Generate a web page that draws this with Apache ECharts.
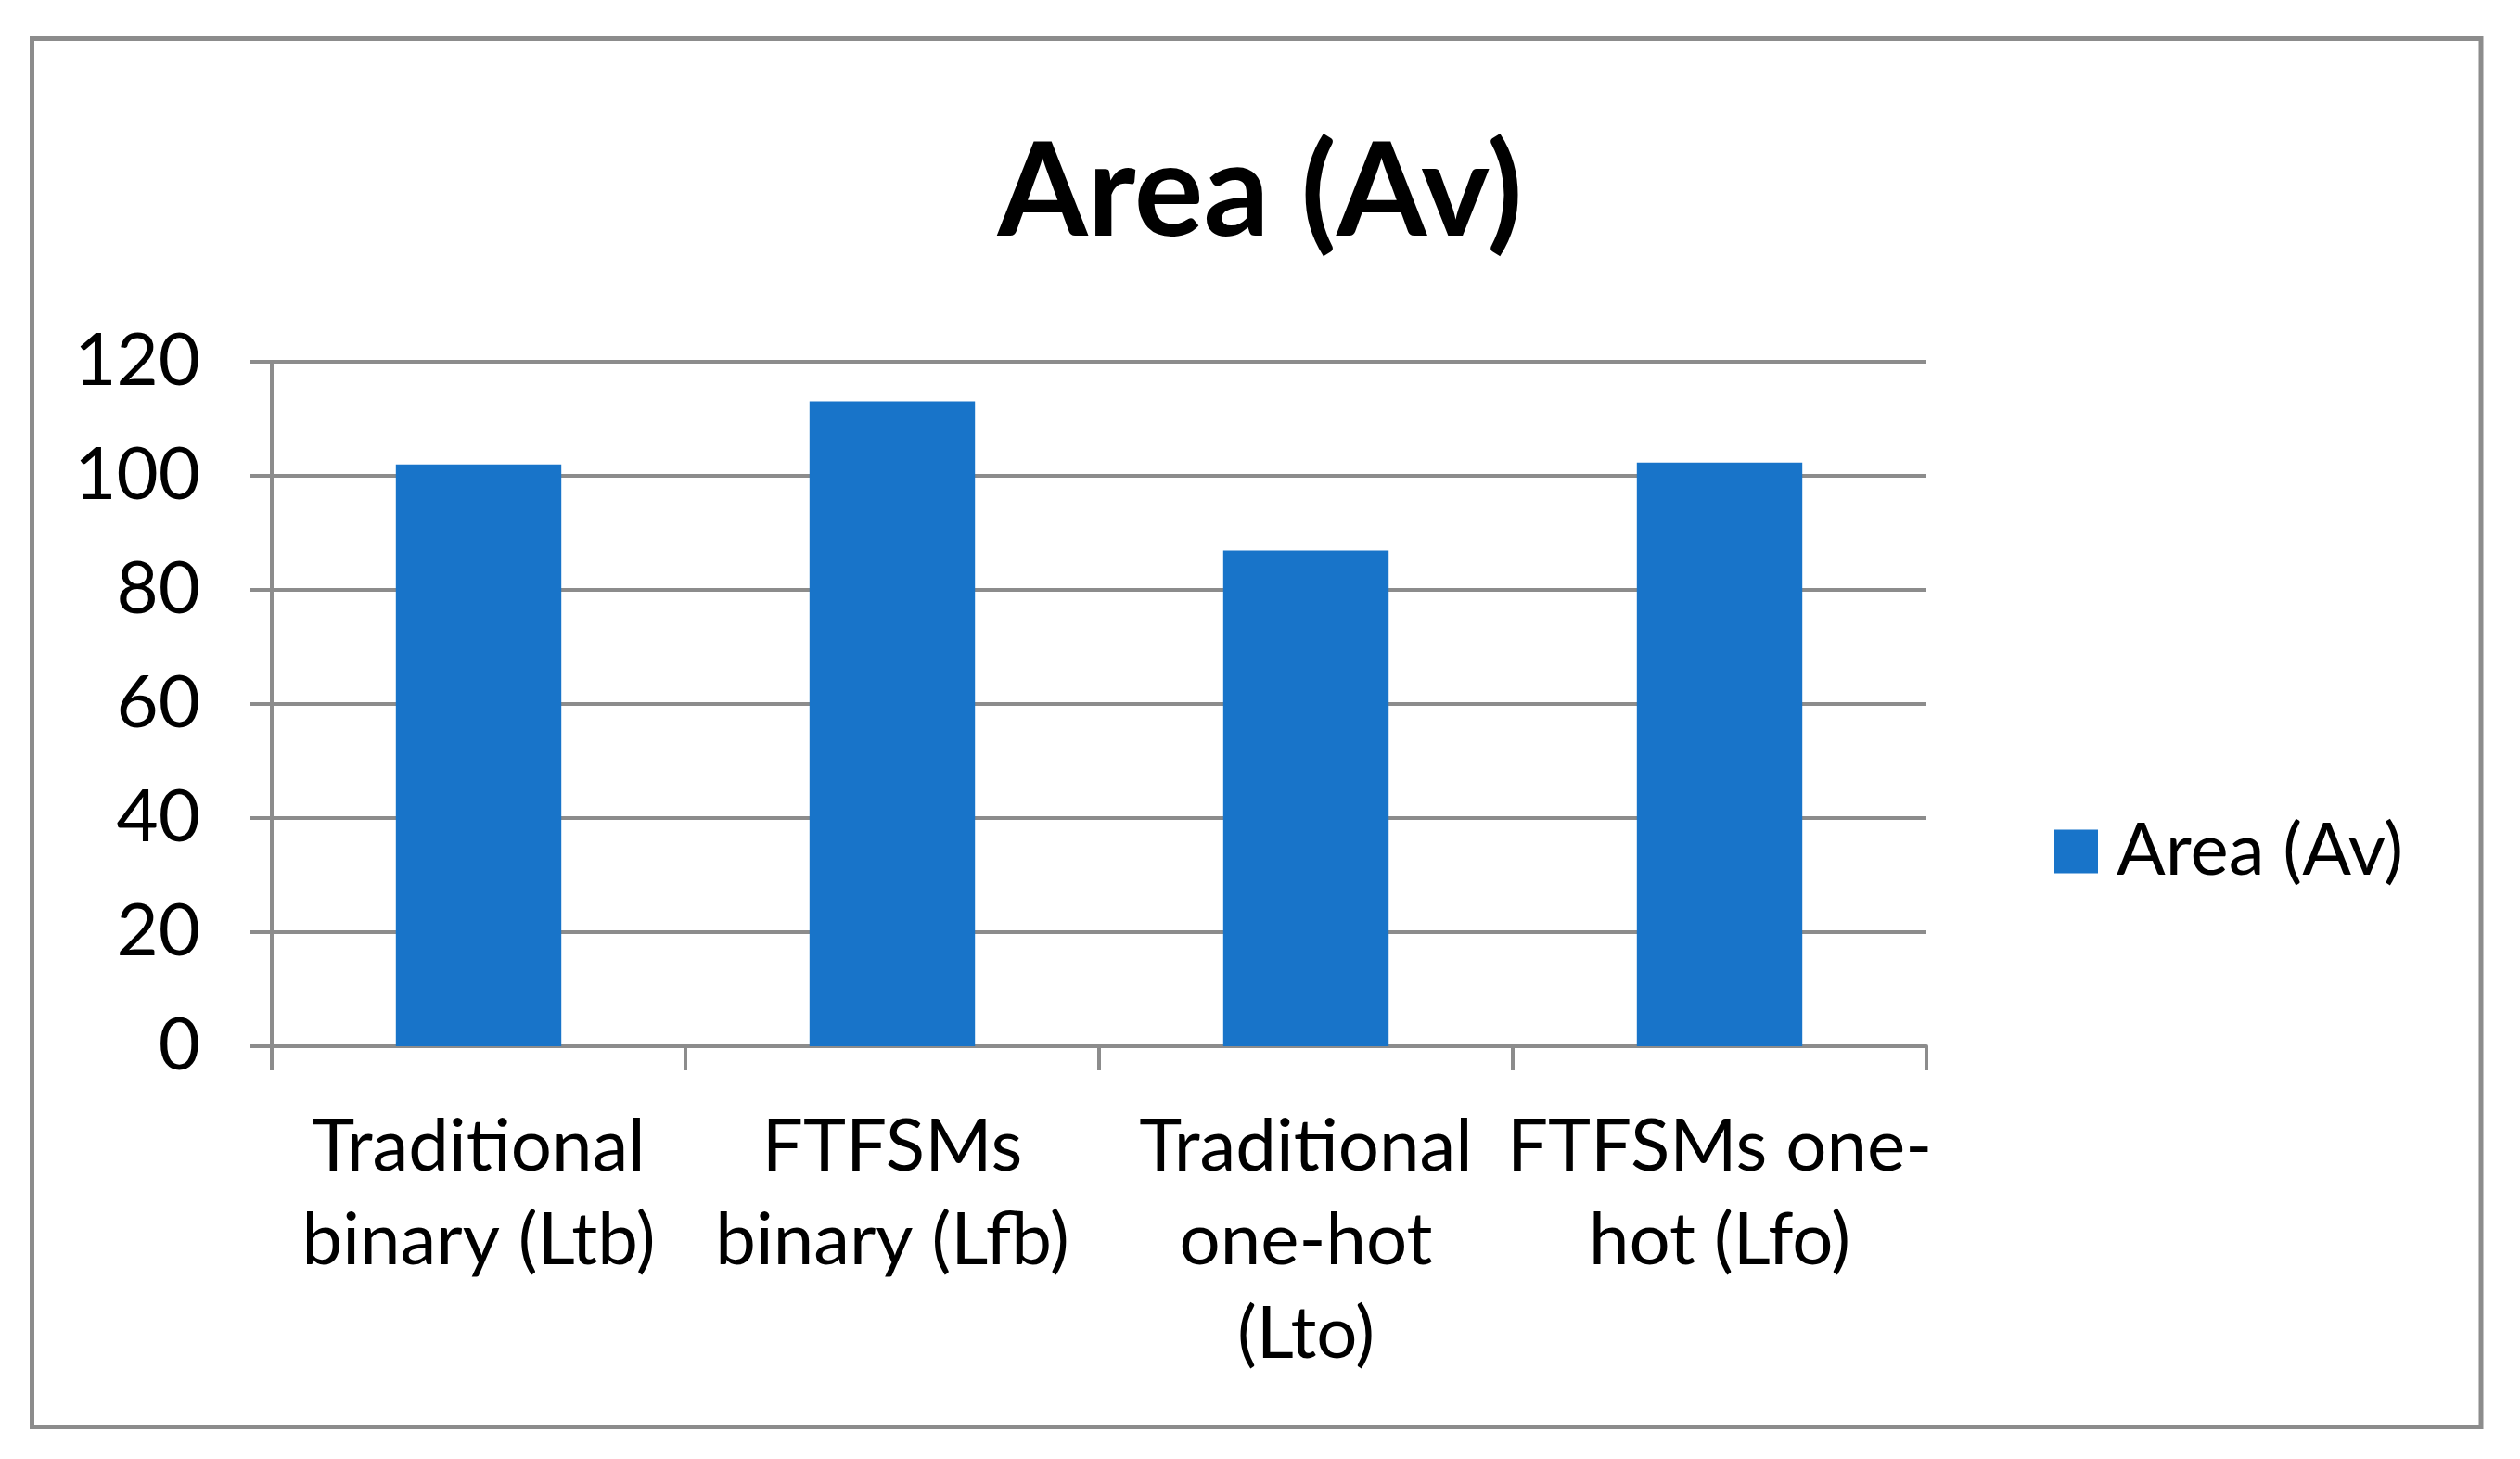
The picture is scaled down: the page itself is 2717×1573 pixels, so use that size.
<!DOCTYPE html>
<html>
<head>
<meta charset="utf-8">
<script src="https://cdn.jsdelivr.net/npm/echarts@6/dist/echarts.min.js"></script>
<style>
  html, body { margin: 0; padding: 0; background: #fff; }
  #chart { width: 2717px; height: 1573px; }
</style>
</head>
<body>
<div id="chart"></div>
<script>
const categories = [
  'Traditional\nbinary (Ltb)',
  'FTFSMs\nbinary (Lfb)',
  'Traditional\none-hot\n(Lto)',
  'FTFSMs one-\nhot (Lfo)'
]
const areaValues = [102.0, 113.1, 86.9, 102.3]
const seriesName = 'Area (Av)'

const gray = '#8c8c8c'
const font = 'Lato, "Open Sans", sans-serif'

const chart = echarts.init(document.getElementById('chart'))

chart.setOption({
  backgroundColor: '#fff',
  animation: false,
  // outer chart frame
  graphic: [{
    type: 'rect',
    shape: { x: 34.5, y: 41.5, width: 2640.5, height: 1497 },
    style: { fill: 'none', stroke: gray, lineWidth: 5 }
  }],
  title: {
    text: 'Area (Av)',
    left: 'center',
    top: 134,
    textStyle: { fontFamily: font, fontWeight: 'bold', fontSize: 140, color: '#000' }
  },
  legend: {
    data: [seriesName],
    left: 2210,
    top: 874,
    icon: 'rect',
    itemWidth: 47,
    itemHeight: 47,
    itemGap: 10,
    textStyle: { fontFamily: font, fontSize: 78, color: '#000', padding: [0, 0, 0, 15] }
  },
  grid: { left: 293, right: 640, top: 390, bottom: 445, containLabel: false },
  xAxis: {
    type: 'category',
    data: categories,
    axisLine: { lineStyle: { color: gray, width: 4 } },
    axisTick: { show: true, length: 26, lineStyle: { color: gray, width: 4 } },
    axisLabel: {
      interval: 0,
      margin: 58,
      fontFamily: font,
      fontSize: 78,
      lineHeight: 101,
      color: '#000'
    }
  },
  yAxis: {
    type: 'value',
    min: 0,
    max: 120,
    interval: 20,
    axisLine: { show: true, lineStyle: { color: gray, width: 4 } },
    axisTick: { show: true, length: 23, lineStyle: { color: gray, width: 4 } },
    splitLine: { lineStyle: { color: gray, width: 4 } },
    axisLabel: { margin: 77, fontFamily: font, fontSize: 78, color: '#000' }
  },
  series: [{
    name: seriesName,
    type: 'bar',
    data: areaValues,
    barWidth: '40%',
    itemStyle: { color: '#1874c9' }
  }]
})
</script>
</body>
</html>
